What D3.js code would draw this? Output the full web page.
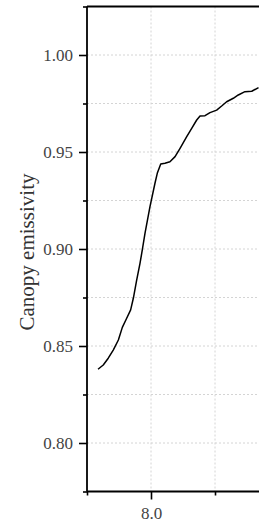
<!DOCTYPE html>
<html>
<head>
<meta charset="utf-8">
<script src="https://cdn.jsdelivr.net/npm/d3@7"></script>
<style>
  body { margin: 0; background: #fff; }
  svg { display: block; }
  .tick text { font-family: "Liberation Serif", serif; font-size: 17px; fill: #444; }
  .aText { font-family: "Liberation Serif", serif; font-size: 21px; fill: #333; }
</style>
</head>
<body>
<div id="chart"></div>
<script>
// data
var wavelength = [7.586, 7.627, 7.666, 7.705, 7.745, 7.776, 7.810, 7.841, 7.862, 7.888,
  7.914, 7.932, 7.953, 7.992, 8.031, 8.049, 8.076, 8.109, 8.148, 8.188,
  8.227, 8.279, 8.318, 8.357, 8.383, 8.422, 8.461, 8.513, 8.552, 8.591,
  8.643, 8.682, 8.734, 8.787, 8.840];
var emissivity = [0.8380, 0.8402, 0.8437, 0.8479, 0.8531, 0.8596, 0.8643, 0.8686, 0.8746, 0.8840,
  0.8926, 0.8995, 0.9081, 0.9218, 0.9339, 0.9390, 0.9438, 0.9442, 0.9450, 0.9476,
  0.9519, 0.9579, 0.9622, 0.9665, 0.9686, 0.9687, 0.9703, 0.9716, 0.9737, 0.9759,
  0.9777, 0.9794, 0.9811, 0.9813, 0.9832];

var yMajorTicks = [0.80, 0.85, 0.90, 0.95, 1.00];
var yMinorTicks = [0.775, 0.825, 0.875, 0.925, 0.975, 1.025];
var xMajorTicks = [8.0];
var xMinorTicks = [7.5, 8.5];

var svgWidth = 262, svgHeight = 529;
var margin = { top: 6.5, right: 3, bottom: 37.5, left: 87 };
var chartWidth = svgWidth - margin.left - margin.right;
var chartHeight = svgHeight - margin.top - margin.bottom;

var svg = d3.select("#chart").append("svg")
  .attr("width", svgWidth)
  .attr("height", svgHeight);

var chartGroup = svg.append("g")
  .attr("transform", `translate(${margin.left}, ${margin.top})`);

var xScale = d3.scaleLinear()
  .domain([7.5, 7.5 + chartWidth / 128])
  .range([0, chartWidth]);

var yScale = d3.scaleLinear()
  .domain([0.775, 1.025])
  .range([chartHeight, 0]);

// grid
var grid = chartGroup.append("g");
grid.selectAll("line.gy")
  .data(yMajorTicks.concat(yMinorTicks.filter(d => d > 0.78 && d < 1.02)))
  .enter().append("line")
  .attr("x1", 0).attr("x2", chartWidth)
  .attr("y1", d => yScale(d)).attr("y2", d => yScale(d))
  .attr("stroke", "#d4d4d4").attr("stroke-width", 1)
  .attr("stroke-dasharray", "2,2");
grid.selectAll("line.gx")
  .data(xMajorTicks.concat(xMinorTicks.filter(d => d > 7.5)))
  .enter().append("line")
  .attr("x1", d => xScale(d)).attr("x2", d => xScale(d))
  .attr("y1", 0).attr("y2", chartHeight)
  .attr("stroke", "#d4d4d4").attr("stroke-width", 1)
  .attr("stroke-dasharray", "2,2");

// axes
function styleAxis(g) {
  g.select(".domain").remove();
  g.selectAll(".tick line").attr("stroke", "#000").attr("stroke-width", 1.6);
}

chartGroup.append("g")
  .call(d3.axisLeft(yScale).tickValues(yMajorTicks).tickSize(8).tickPadding(6).tickFormat(d3.format(".2f")))
  .call(styleAxis);
chartGroup.append("g")
  .call(d3.axisLeft(yScale).tickValues(yMinorTicks).tickSize(4).tickFormat(""))
  .call(styleAxis);

chartGroup.append("g")
  .attr("transform", `translate(0, ${chartHeight})`)
  .call(d3.axisBottom(xScale).tickValues(xMajorTicks).tickSize(8).tickPadding(7).tickFormat(d3.format(".1f")))
  .call(styleAxis);
chartGroup.append("g")
  .attr("transform", `translate(0, ${chartHeight})`)
  .call(d3.axisBottom(xScale).tickValues(xMinorTicks).tickSize(4).tickFormat(""))
  .call(styleAxis);

// frame: left, bottom, top
var frame = chartGroup.append("g").attr("stroke", "#000").attr("stroke-width", 1.8);
frame.append("line").attr("x1", 0).attr("x2", 0).attr("y1", 0).attr("y2", chartHeight);
frame.append("line").attr("x1", 0).attr("x2", chartWidth).attr("y1", chartHeight).attr("y2", chartHeight);
frame.append("line").attr("x1", 0).attr("x2", chartWidth).attr("y1", 0).attr("y2", 0);

// curve
var line = d3.line()
  .x((d, i) => xScale(wavelength[i]))
  .y(d => yScale(d));

chartGroup.append("path")
  .datum(emissivity)
  .attr("d", line)
  .attr("fill", "none")
  .attr("stroke", "#000")
  .attr("stroke-width", 1.5)
  .attr("stroke-linejoin", "round");

// axis label
chartGroup.append("text")
  .attr("transform", "rotate(-90)")
  .attr("x", 0 - (yScale(0.9) + 3))
  .attr("y", 34 - margin.left)
  .attr("text-anchor", "middle")
  .attr("class", "aText")
  .text("Canopy emissivity");
</script>
</body>
</html>
